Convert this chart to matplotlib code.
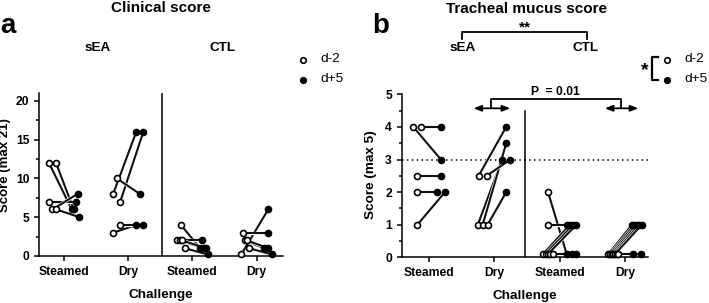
import numpy as np
import matplotlib
matplotlib.use("Agg")
import matplotlib.pyplot as plt
import matplotlib.patheffects as pe
from matplotlib.lines import Line2D
from matplotlib.ticker import MultipleLocator

plt.rcParams['font.family'] = ['Liberation Sans', 'DejaVu Sans']
plt.rcParams['font.weight'] = 'bold'

W, H = 709, 303

challenges = ['Steamed', 'Dry', 'Steamed', 'Dry']
groups = ['sEA', 'CTL']

# Clinical score, paired d-2 -> d+5, one list per group/challenge
clin_pre = [
    [12, 12, 7, 6, 6],          # sEA steamed
    [8, 7, 10, 3, 4],           # sEA dry
    [4, 2, 2, 2, 1],            # CTL steamed
    [0.2, 3, 2, 2, 1],          # CTL dry
]
clin_post = [
    [6, 6, 7, 8, 5],
    [16, 16, 8, 4, 4],
    [1, 2, 1, 1, 0.2],
    [6, 3, 1, 1, 0.2],
]

# Tracheal mucus score
muc_pre = [
    [4, 4, 2.5, 2, 1],
    [2.5, 1, 1, 2.5, 1],
    [2, 1, 0.1, 0.1, 0.1, 0.1, 0.1],
    [0.1, 0.1, 0.1, 0.1, 0.1, 0.1, 0.1],
]
muc_post = [
    [3, 4, 2.5, 2, 2],
    [4, 3, 3.5, 3, 2],
    [0.1, 1, 1, 1, 1, 0.1, 0.1],
    [1, 1, 1, 1, 1, 0.1, 0.1],
]


def spread(vals, center, tol, step_max, width):
    # spread points of nearly equal value side by side
    vals = np.asarray(vals, float)
    order = np.argsort(vals, kind='stable')
    xs = np.full(len(vals), center)
    clusters, cur = [], [order[0]]
    for i in order[1:]:
        if vals[i] - vals[cur[-1]] <= tol:
            cur.append(i)
        else:
            clusters.append(cur)
            cur = [i]
    clusters.append(cur)
    for c in clusters:
        k = len(c)
        if k > 1:
            step = min(step_max, width / (k - 1))
            for j, i in enumerate(sorted(c)):
                xs[i] = center + (j - (k - 1) / 2) * step
    return xs


def draw_pairs(ax, pre, post, tol, step_max, width):
    outline = [pe.Stroke(linewidth=2.4, foreground='white'), pe.Normal()]
    for g, (a, b) in enumerate(zip(pre, post)):
        xa = spread(a, g - 0.18, tol, step_max, width)
        xb = spread(b, g + 0.18, tol, step_max, width)
        for i in range(len(a)):
            ax.plot([xa[i], xb[i]], [a[i], b[i]], color='#111111', lw=1.5,
                    zorder=2, path_effects=outline)
        ax.plot(xa, a, 'o', ms=4.3, mfc='white', mec='black', mew=1.2,
                zorder=3, clip_on=False)
        ax.plot(xb, b, 'o', ms=4.3, mfc='black', mec='black', mew=1.2,
                zorder=3, clip_on=False)


def style_axes(ax):
    for s in ['top', 'right']:
        ax.spines[s].set_visible(False)
    for s in ['left', 'bottom']:
        ax.spines[s].set_linewidth(1.1)
    ax.tick_params(which='both', direction='out', width=1.1, labelsize=8.7)
    ax.tick_params(which='major', length=3.5)
    ax.tick_params(which='minor', length=2.2)
    ax.set_xticks(range(4))
    ax.set_xticklabels(challenges, fontweight='bold')
    for t in ax.get_yticklabels():
        t.set_fontweight('bold')
    ax.set_xlabel('Challenge', fontsize=9.7, fontweight='bold', labelpad=8)


def fx(x):
    return x / W


def fy(y):
    return 1 - y / H


fig = plt.figure(figsize=(W / 100, H / 100), dpi=100)

# ---- panel a ----
axa = fig.add_axes([fx(39), fy(256), fx(283 - 39), (256 - 93) / H])
axa.set_xlim(-0.39, 3.41)
axa.set_ylim(0, 21)
axa.yaxis.set_major_locator(MultipleLocator(5))
axa.yaxis.set_minor_locator(MultipleLocator(2.5))
axa.set_yticks([0, 5, 10, 15, 20])
axa.axvline(1.52, color='black', lw=1.1)
draw_pairs(axa, clin_pre, clin_post, 1.0, 0.11, 0.12)
style_axes(axa)
axa.set_ylabel('Score (max 21)', fontsize=9.5, fontweight='bold')
axa.yaxis.set_label_coords(-0.115, 0.555)

# ---- panel b ----
axb = fig.add_axes([fx(401.7), fy(257.3), fx(648 - 401.7), (257.3 - 94.3) / H])
axb.set_xlim(-0.42, 3.35)
axb.set_ylim(0, 5)
axb.yaxis.set_major_locator(MultipleLocator(1))
axb.yaxis.set_minor_locator(MultipleLocator(0.5))
axb.plot([1.47, 1.47], [0, 4.5], color='black', lw=1.1)
axb.axhline(3, color='black', lw=1.1, ls=(0, (1, 2.2)))
draw_pairs(axb, muc_pre, muc_post, 0.25, 0.125, 0.15)
style_axes(axb)
axb.set_ylabel('Score (max 5)', fontsize=9.7, fontweight='bold')
axb.yaxis.set_label_coords(-0.10, 0.51)

# P bracket between dry groups
axb.plot([0.95, 0.95, 2.94, 2.94], [4.57, 4.85, 4.85, 4.57], color='black',
         lw=1.3, clip_on=False)
for x0, x1 in [(0.68, 1.24), (2.69, 3.2)]:
    axb.annotate('', xy=(x1, 4.57), xytext=(x0, 4.57), annotation_clip=False,
                 arrowprops=dict(arrowstyle='<|-|>,head_length=0.45,head_width=0.18',
                                 color='black', lw=1.3, shrinkA=0, shrinkB=0))
axb.text(1.93, 4.9, 'P  = 0.01', ha='center', va='bottom', fontsize=8.7,
         fontweight='bold')

# titles and panel letters
fig.text(fx(161), fy(8), 'Clinical score', ha='center', va='center',
         fontsize=11, fontweight='bold')
fig.text(fx(526), fy(9), 'Tracheal mucus score', ha='center', va='center',
         fontsize=11, fontweight='bold')
fig.text(fx(0), fy(33), 'a', ha='left', va='baseline', fontsize=20,
         fontweight='bold')
fig.text(fx(372), fy(33), 'b', ha='left', va='baseline', fontsize=20,
         fontweight='bold')

# group labels
for x, g in zip([97.5, 222.5], groups):
    fig.text(fx(x), fy(48), g, ha='center', va='center', fontsize=9.7,
             fontweight='bold')
for x, g in zip([462.5, 585.5], groups):
    fig.text(fx(x), fy(48), g, ha='center', va='center', fontsize=9.7,
             fontweight='bold')

# sEA vs CTL bracket
fig.add_artist(Line2D([fx(461.7), fx(461.7), fx(587.3), fx(587.3)],
                      [fy(38.5), fy(31.7), fy(31.7), fy(38.5)],
                      color='black', lw=1.3))
fig.text(fx(525), fy(27), '**', ha='center', va='center', fontsize=11,
         fontweight='bold')

# legends
legend_labels = ['d-2', 'd+5']
for xm, xt in [(303.3, 320), (667.3, 684)]:
    for y, lab, fc in zip([59.5, 79.5], legend_labels, ['white', 'black']):
        fig.add_artist(Line2D([fx(xm)], [fy(y)], marker='o', ms=4.0, mfc=fc,
                              mec='black', mew=1.2, ls='none'))
        fig.text(fx(xt), fy(y), lab, ha='left', va='center', fontsize=9.7,
                 fontweight='normal')

fig.add_artist(Line2D([fx(658), fx(651.7), fx(651.7), fx(658)],
                      [fy(57), fy(57), fy(80.5), fy(80.5)], color='black', lw=1.6))
fig.text(fx(645), fy(71), '*', ha='center', va='center', fontsize=14,
         fontweight='bold')

fig.savefig('out.png', dpi=100)
